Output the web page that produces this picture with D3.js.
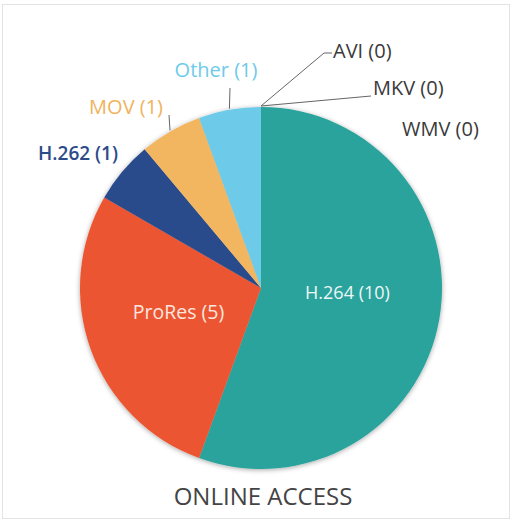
<!DOCTYPE html>
<meta charset="utf-8">
<style>
body { margin: 0; background: #fff; }
text { font-family: "Open Sans", Lato, sans-serif; }
</style>
<svg width="513" height="527"></svg>
<script src="https://cdn.jsdelivr.net/npm/d3@7/dist/d3.min.js"></script>
<script>
// data
var formats = ["H.264", "ProRes", "H.262", "MOV", "Other", "AVI", "MKV", "WMV"];
var counts  = [10, 5, 1, 1, 1, 0, 0, 0];
var colours = ["#2aa39d", "#ec5531", "#2b4b8b", "#f3b661", "#6dcbe9", "#444", "#444", "#444"];
var labelColours = ["#eef6f5", "#fbe6df", "#2b4b8b", "#f0b35c", "#6dcbe9", "#3a3a3a", "#3a3a3a", "#3a3a3a"];
var title = "ONLINE ACCESS";

var svg = d3.select("svg"),
    cx = 261, cy = 288, radius = 181;

// frame
svg.append("rect")
    .attr("x", 2.5).attr("y", 4.5)
    .attr("width", 507).attr("height", 514)
    .attr("fill", "#fff")
    .attr("stroke", "#e3e3e3");

var defs = svg.append("defs");
var shadow = defs.append("filter").attr("id", "shadow")
    .attr("x", "-10%").attr("y", "-10%").attr("width", "120%").attr("height", "120%");
shadow.append("feDropShadow")
    .attr("dx", 0).attr("dy", 1).attr("stdDeviation", 2.5)
    .attr("flood-color", "#000").attr("flood-opacity", 0.35);

var data = formats.map(function(f, i) { return {name: f, value: counts[i], i: i}; });

var pie = d3.pie().sort(null).value(function(d) { return d.value; });
var arcs = pie(data);

var arc = d3.arc().innerRadius(0).outerRadius(radius);
var inner = d3.arc().innerRadius(0).outerRadius(radius * 0.97);

var g = svg.append("g").attr("transform", "translate(" + cx + "," + cy + ")");

g.append("g").attr("filter", "url(#shadow)")
  .selectAll("path")
  .data(arcs.filter(function(d) { return d.value > 0; }))
  .enter().append("path")
    .attr("d", arc)
    .attr("fill", function(d) { return colours[d.data.i]; })
    .attr("stroke", "none");

// point on the rim for an angle
function rim(a, r) { return [Math.sin(a) * r, -Math.cos(a) * r]; }

// labels inside the two big slices
g.selectAll(".inlabel")
  .data(arcs.filter(function(d) { return d.value >= 5; }))
  .enter().append("text")
    .attr("class", "inlabel")
    .attr("transform", function(d) {
      var c = inner.centroid(d);
      var dy = d.data.i === 0 ? -11 : -6;
      return "translate(" + c[0] + "," + (c[1] + dy) + ")";
    })
    .attr("text-anchor", "middle")
    .attr("dy", "0.35em")
    .attr("fill", function(d) { return labelColours[d.data.i]; })
    .style("font-size", function(d) { return d.data.i === 0 ? "18px" : "19.5px"; })
    .text(function(d) { return d.data.name + " (" + d.data.value + ")"; });

// outside labels: leader elbow and text spot, relative to the centre
var outside = {
  "H.262": {line: null, text: [-143, -135], anchor: "end"},
  "MOV":   {line: [[-92, -173]], text: [-98, -181], anchor: "end"},
  "Other": {line: [[-31, -200]], text: [-45, -218], anchor: "middle"},
  "AVI":   {line: [[63, -235], [71, -235]], text: [72, -237], anchor: "start"},
  "MKV":   {line: [[110, -192]], text: [112, -200], anchor: "start"},
  "WMV":   {line: null, text: [141, -159], anchor: "start"}
};

arcs.filter(function(d) { return d.value < 5; }).forEach(function(d) {
  var o = outside[d.data.name];
  var mid = d.value > 0 ? (d.startAngle + d.endAngle) / 2 : d.startAngle;
  if (o.line) {
    var pts = [rim(mid, radius + 1)].concat(o.line);
    g.append("path")
      .attr("d", d3.line()(pts))
      .attr("fill", "none")
      .attr("stroke", "#666")
      .attr("stroke-width", 1);
  }
  g.append("text")
    .attr("x", o.text[0]).attr("y", o.text[1])
    .attr("dy", "0.35em")
    .attr("text-anchor", o.anchor)
    .attr("fill", labelColours[d.data.i])
    .style("font-size", d.data.i === 2 ? "19px" : "20px")
    .style("font-weight", d.data.i === 2 ? "600" : "normal")
    .text(d.data.name + " (" + d.data.value + ")");
});

svg.append("text")
    .attr("x", cx + 2)
    .attr("y", 497)
    .attr("dy", "0.35em")
    .attr("text-anchor", "middle")
    .attr("fill", "#444")
    .style("font-size", "24px")
    .text(title);
</script>
